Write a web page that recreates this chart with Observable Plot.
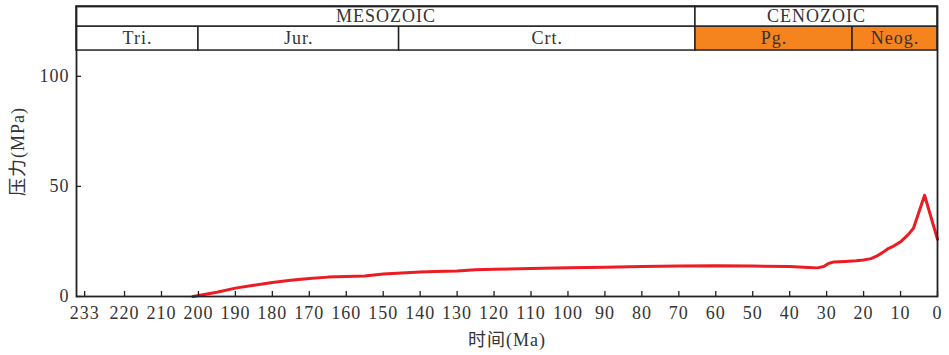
<!DOCTYPE html>
<html>
<head>
<meta charset="utf-8">
<script src="https://cdn.jsdelivr.net/npm/d3@7"></script>
<script src="https://cdn.jsdelivr.net/npm/@observablehq/plot@0.6"></script>
<style>
  html, body { margin: 0; padding: 0; background: #fff; }
  #chart svg text { letter-spacing: 1px; }
</style>
</head>
<body>
<div id="chart"></div>
<script>
// Pressure evolution (Ma vs MPa)
const ages = [201.5, 195, 190, 185, 180, 175, 170, 165, 160, 155, 150, 145, 140, 136, 130, 125, 120, 110, 100, 90, 80, 70, 60, 50, 40, 35, 32.5, 30.8, 29.5, 28, 25, 22, 20, 18, 16.5, 15, 13.5, 12, 10, 8, 6.5, 3.5, 0];
const pressure = [0, 1.9, 3.8, 5.1, 6.4, 7.4, 8.2, 8.8, 9.1, 9.3, 10.2, 10.7, 11.1, 11.3, 11.6, 12.1, 12.4, 12.7, 13.0, 13.3, 13.6, 13.8, 14.0, 13.8, 13.6, 13.2, 13.0, 13.6, 15.0, 15.7, 15.9, 16.2, 16.6, 17.2, 18.3, 19.8, 21.6, 22.8, 24.8, 28.0, 31.0, 46.0, 26.0];

// Geologic time scale
const eraNames = ["MESOZOIC", "CENOZOIC"];
const eraStart = [233, 65.5];
const eraEnd = [65.5, 0];
const periodNames = ["Tri.", "Jur.", "Crt.", "Pg.", "Neog."];
const periodStart = [233, 200, 145.7, 65.5, 23];
const periodEnd = [200, 145.7, 65.5, 23, 0];
const periodFill = ["#ffffff", "#ffffff", "#ffffff", "#f5841f", "#f5841f"];

// Axis ticks
const xTicks = [230.8, 220, 210, 200, 190, 180, 170, 160, 150, 140, 130, 120, 110, 100, 90, 80, 70, 60, 50, 40, 30, 20, 10, 0];
const xTickLabels = ["233", "220", "210", "200", "190", "180", "170", "160", "150", "140", "130", "120", "110", "100", "90", "80", "70", "60", "50", "40", "30", "20", "10", "0"];
const yTicks = [0, 50, 100];

const xLabel = "时间(Ma)";
const yLabel = "压力(MPa)";

// layout (value-space heights of the header rows)
const yTop = 131.7, periodBottom = 111.7, eraBottom = 122.6;
const xMax = 233, xMin = 0;
// inward tick length, ~5px expressed in each scale's units
const yTickLen = 5 * yTop / 290, xTickLen = 5 * xMax / 861;

const series = ages.map((a, i) => ({age: a, p: pressure[i]}));
const eras = eraNames.map((n, i) => ({name: n, x1: eraStart[i], x2: eraEnd[i]}));
const periods = periodNames.map((n, i) => ({name: n, x1: periodStart[i], x2: periodEnd[i], fill: periodFill[i]}));

const ink = "#222";
const textInk = "#333";
const font = "'Liberation Serif', 'Times New Roman', 'Noto Sans CJK SC', serif";

const chart = Plot.plot({
  width: 949,
  height: 355,
  marginLeft: 76,
  marginRight: 12,
  marginTop: 6,
  marginBottom: 59,
  style: {fontFamily: font, fontSize: "18px", color: textInk, background: "#fff"},
  x: {domain: [xMax, xMin], range: [76, 937]},
  y: {domain: [0, yTop]},
  marks: [
    Plot.line(series, {x: "age", y: "p", stroke: "#ec1c24", strokeWidth: 3, strokeLinejoin: "round"}),
    Plot.rect(periods, {x1: "x1", x2: "x2", y1: periodBottom, y2: eraBottom, fill: "fill", stroke: ink, strokeWidth: 1.5}),
    Plot.rect(eras, {x1: "x1", x2: "x2", y1: eraBottom, y2: yTop, fill: "#fff", stroke: ink, strokeWidth: 1.5}),
    Plot.text(periods, {x: d => (d.x1 + d.x2) / 2, y: (periodBottom + eraBottom) / 2, text: "name", fill: textInk, fontSize: 18}),
    Plot.text(eras, {x: d => (d.x1 + d.x2) / 2, y: (eraBottom + yTop) / 2, text: "name", fill: textInk, fontSize: 18}),
    Plot.frame({stroke: ink, strokeWidth: 1.8}),
    // inward tick marks
    Plot.ruleX(xTicks, {x: d => d, y1: 0, y2: yTickLen, stroke: ink, strokeWidth: 1.3}),
    Plot.ruleY(yTicks, {y: d => d, x1: xMax, x2: xMax - xTickLen, stroke: ink, strokeWidth: 1.3}),
    // labels
    Plot.axisX({
      ticks: xTicks,
      tickFormat: (d, i) => xTickLabels[i],
      tickSize: 0,
      tickPadding: 10,
      fill: textInk,
      fontSize: 18,
      label: xLabel,
      labelAnchor: "center",
      labelArrow: "none",
      labelOffset: 49
    }),
    Plot.axisY({
      ticks: yTicks,
      tickSize: 0,
      tickPadding: 7,
      fill: textInk,
      fontSize: 18,
      label: yLabel,
      labelAnchor: "center",
      labelOffset: 65,
      labelArrow: "none"
    })
  ]
});
document.getElementById("chart").appendChild(chart);
</script>
</body>
</html>
